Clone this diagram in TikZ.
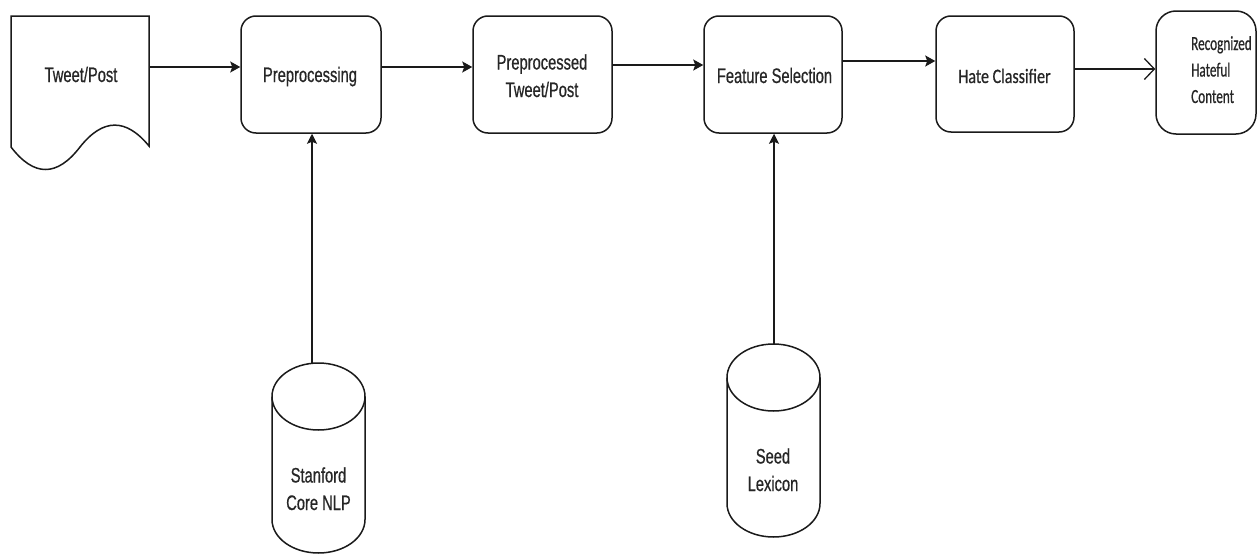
\documentclass[tikz,border=0pt]{standalone}
\usepackage{fontspec}
\setmainfont{Liberation Sans}
\newfontfamily\narrowfont[FakeStretch=0.70,FakeBold=0.6]{Liberation Sans}
\newfontfamily\calfont[FakeStretch=0.78,FakeBold=0.6]{Carlito}
\newfontfamily\calnarrow[FakeStretch=0.66,FakeBold=0.6]{Carlito}
\usetikzlibrary{arrows.meta}
\definecolor{txt}{HTML}{262626}
\definecolor{ln}{HTML}{1A1A1A}
\tikzset{
  box/.style={draw=ln, line width=1.5pt, rounded corners=15pt, minimum width=#1, minimum height=117pt, inner sep=0pt},
  box/.default=139pt,
  hidden/.style={inner sep=0pt},
  lbl/.style={text=txt, inner sep=0pt, font=\narrowfont\fontsize{21}{27.5}\selectfont},
  lblc/.style={text=txt, inner sep=0pt, font=\calfont\fontsize{20.5}{27}\selectfont},
  lblr/.style={text=txt, inner sep=0pt, font=\calnarrow\fontsize{20}{26.5}\selectfont},
  arr/.style={draw=ln, line width=1.8pt, -{Stealth[length=10pt,width=11pt,inset=2pt]}},
  varr/.style={draw=ln, line width=1.3pt, -{Stealth[length=10pt,width=10pt,inset=2pt]}},
  oarr/.style={draw=ln, line width=1.6pt, -{Straight Barb[length=10pt,width=21pt,line width=1.3pt]}},
  shp/.style={draw=ln, line width=1.5pt},
}
\begin{document}
\begin{tikzpicture}[x=1pt,y=-1pt]
\fill[white] (0,0) rectangle (1258,554);
\useasboundingbox (0,0) rectangle (1258,554);

% Tweet/Post document shape
\draw[shp] (11,147) -- (11,16) -- (149,16) -- (149,146)
  .. controls (126,118) and (103,118) .. (80,147)
  .. controls (57,177) and (34,177) .. (11,147);
\node[hidden, minimum width=138pt, minimum height=131pt] (tw) at (80,81.5) {};
\node[lbl, anchor=base] (twT) at (81,82) {Tweet/Post};

% boxes
\node[box=140pt] (pre) at (311,74.5) {};
\node[lbl, anchor=base] (preT) at (310,82) {Preprocessing};
\node[box=139pt] (ppd) at (542.5,74.5) {};
\node[lbl, anchor=base, align=center] (ppdT) at (542,97) {Preprocessed\\Tweet/Post};
\node[box=138pt] (fs) at (773,74.5) {};
\node[lbl, anchor=base] (fsT) at (774.5,83) {Feature Selection};
\node[box=138pt, minimum height=116pt] (hc) at (1005,74) {};
\node[lblc, anchor=base] (hcT) at (1004.5,83) {Hate Classifier};
\node[box=100pt, minimum height=123pt, rounded corners=20pt] (rhc) at (1206,72.5) {};
\node[lblr, anchor=base west, align=left] (rhcT) at (1191,103) {Recognized\\Hateful\\Content};

% cylinders
\draw[shp] (272,396.5) -- (272,519.5) arc[start angle=180, end angle=360, x radius=46.5, y radius=-33.5] -- (365,396.5);
\draw[shp] (318.5,396.5) ellipse[x radius=46.5, y radius=33.5];
\coordinate (snlptop) at (312,363.3);
\node[lbl, anchor=base, align=center] (snlpT) at (318.5,510) {Stanford\\Core NLP};

\draw[shp] (727,377.5) -- (727,503.5) arc[start angle=180, end angle=360, x radius=46.5, y radius=-33.5] -- (820,377.5);
\draw[shp] (773.5,377.5) ellipse[x radius=46.5, y radius=33.5];
\coordinate (seedtop) at (774,344);
\node[lbl, anchor=base, align=center] (seedT) at (773,491) {Seed\\Lexicon};

% connectors
\draw[arr] ([yshift=14.5pt]tw.east) -- ([yshift=7.5pt]pre.west);
\draw[arr] ([yshift=7.5pt]pre.east) -- ([yshift=7.5pt]ppd.west);
\draw[arr] ([yshift=9.5pt]ppd.east) -- ([yshift=9.5pt]fs.west);
\draw[arr] ([yshift=13.5pt]fs.east) -- ([yshift=13pt]hc.west);
\draw[oarr] ([yshift=5pt]hc.east) -- ([yshift=3.5pt]rhc.west);
\draw[varr] (snlptop) -- (snlptop |- pre.south);
\draw[varr] (seedtop) -- (seedtop |- fs.south);
\end{tikzpicture}
\end{document}
